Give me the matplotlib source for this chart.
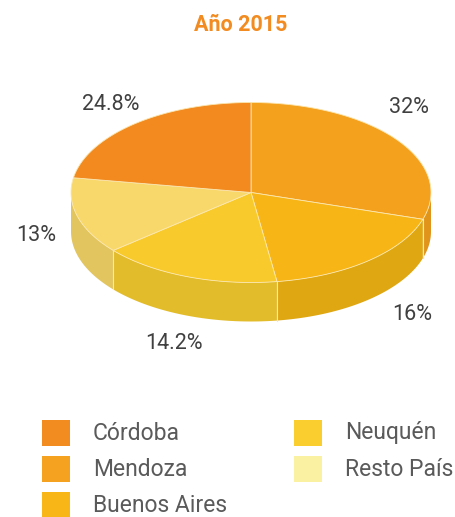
import numpy as np
import matplotlib
matplotlib.use("Agg")
import matplotlib.pyplot as plt
from matplotlib.patches import Polygon, Rectangle

plt.rcParams['font.family'] = ['Roboto', 'DejaVu Sans']

# ---- data (pie order: clockwise from top) ----
slice_names = ["Mendoza", "Buenos Aires", "Neuquén", "Resto País", "Córdoba"]
slice_values = [32, 16, 14.2, 13, 24.8]
slice_labels = ["32%", "16%", "14.2%", "13%", "24.8%"]
top_colors = ["#F4A11E", "#F7B516", "#F8CA2C", "#F8D86A", "#F28A1F"]
side_colors = ["#E0951A", "#DFA812", "#E3BC2B", "#E3C55F", "#D97A1A"]

legend_names = ["Córdoba", "Mendoza", "Buenos Aires", "Neuquén", "Resto País"]
legend_colors = ["#F28B20", "#F4A21F", "#F8B617", "#F9CE2E", "#FBF1A2"]

title = "Año 2015"

# ---- layout ----
W, H = 455, 517
fig = plt.figure(figsize=(W / 100, H / 100), dpi=100)
ax = fig.add_axes([0, 0, 1, 1])
ax.set_xlim(0, W)
ax.set_ylim(H, 0)
ax.axis("off")

cx, cy, rx, ry, depth = 251, 192.5, 180, 90, 39
persp = np.deg2rad(8.7)
label_nudge = [(-15, -13), (13, 8), (4, 10), (3, 5), (0, 0)]


def warp(t):
    # true angle -> drawn (parametric) angle, mimics the perspective view
    return t + persp * np.cos(t)


def pt(phi, dz=0.0):
    return cx + rx * np.cos(phi), cy - ry * np.sin(phi) + dz


vals = np.array(slice_values, dtype=float)
fr = vals / vals.sum()
ends = np.deg2rad(90) - 2 * np.pi * np.cumsum(fr)
starts = np.concatenate([[np.deg2rad(90)], ends[:-1]])

edge_col = "#FBE7B0"

# side walls (front half only)
for i in range(len(vals)):
    a0, a1 = warp(starts[i]), warp(ends[i])  # a0 > a1
    lo, hi = a1, a0
    for shift in (0, -2 * np.pi, 2 * np.pi):
        l2, h2 = max(lo + shift, -np.pi), min(hi + shift, 0)
        if h2 > l2:
            ph = np.linspace(h2, l2, 80)
            top = [pt(p) for p in ph]
            bot = [pt(p, depth) for p in ph[::-1]]
            ax.add_patch(Polygon(top + bot, closed=True, facecolor=side_colors[i],
                                 edgecolor="none", zorder=1))
    if np.sin(a0) < 0:
        x, y = pt(a0)
        ax.plot([x, x], [y, y + depth], color=edge_col, lw=0.8, zorder=1.5)

# top faces
for i in range(len(vals)):
    a0, a1 = warp(starts[i]), warp(ends[i])
    ph = np.linspace(a0, a1, 120)
    poly = [(cx, cy)] + [pt(p) for p in ph]
    ax.add_patch(Polygon(poly, closed=True, facecolor=top_colors[i],
                         edgecolor=edge_col, lw=0.6, zorder=2))

# percentage labels
f = 1.25
for i in range(len(vals)):
    mid = warp((starts[i] + ends[i]) / 2)
    x = cx + f * rx * np.cos(mid)
    y = cy - f * ry * np.sin(mid)
    if np.sin(mid) < 0:
        y += depth * (-np.sin(mid))
    dx, dy = label_nudge[i]
    ax.text(x + dx, y + dy, slice_labels[i], ha="center", va="center", fontsize=15.5,
            color="#404040", zorder=3)

# title
ax.text(241, 25, title, ha="center", va="center", fontsize=15.5,
        fontweight="bold", color="#F28B20")

# legend
col_x = [42, 294]
row_y = [433, 469, 505]
for k, (name, col) in enumerate(zip(legend_names, legend_colors)):
    c, r = divmod(k, 3)
    x0, y0 = col_x[c], row_y[r]
    ax.add_patch(Rectangle((x0, y0 - 13), 28, 26, facecolor=col, edgecolor="none"))
    ax.text(x0 + 51, y0, name, ha="left", va="center", fontsize=16.5,
            color="#5a5a5a")

fig.savefig("out.png", dpi=100)
